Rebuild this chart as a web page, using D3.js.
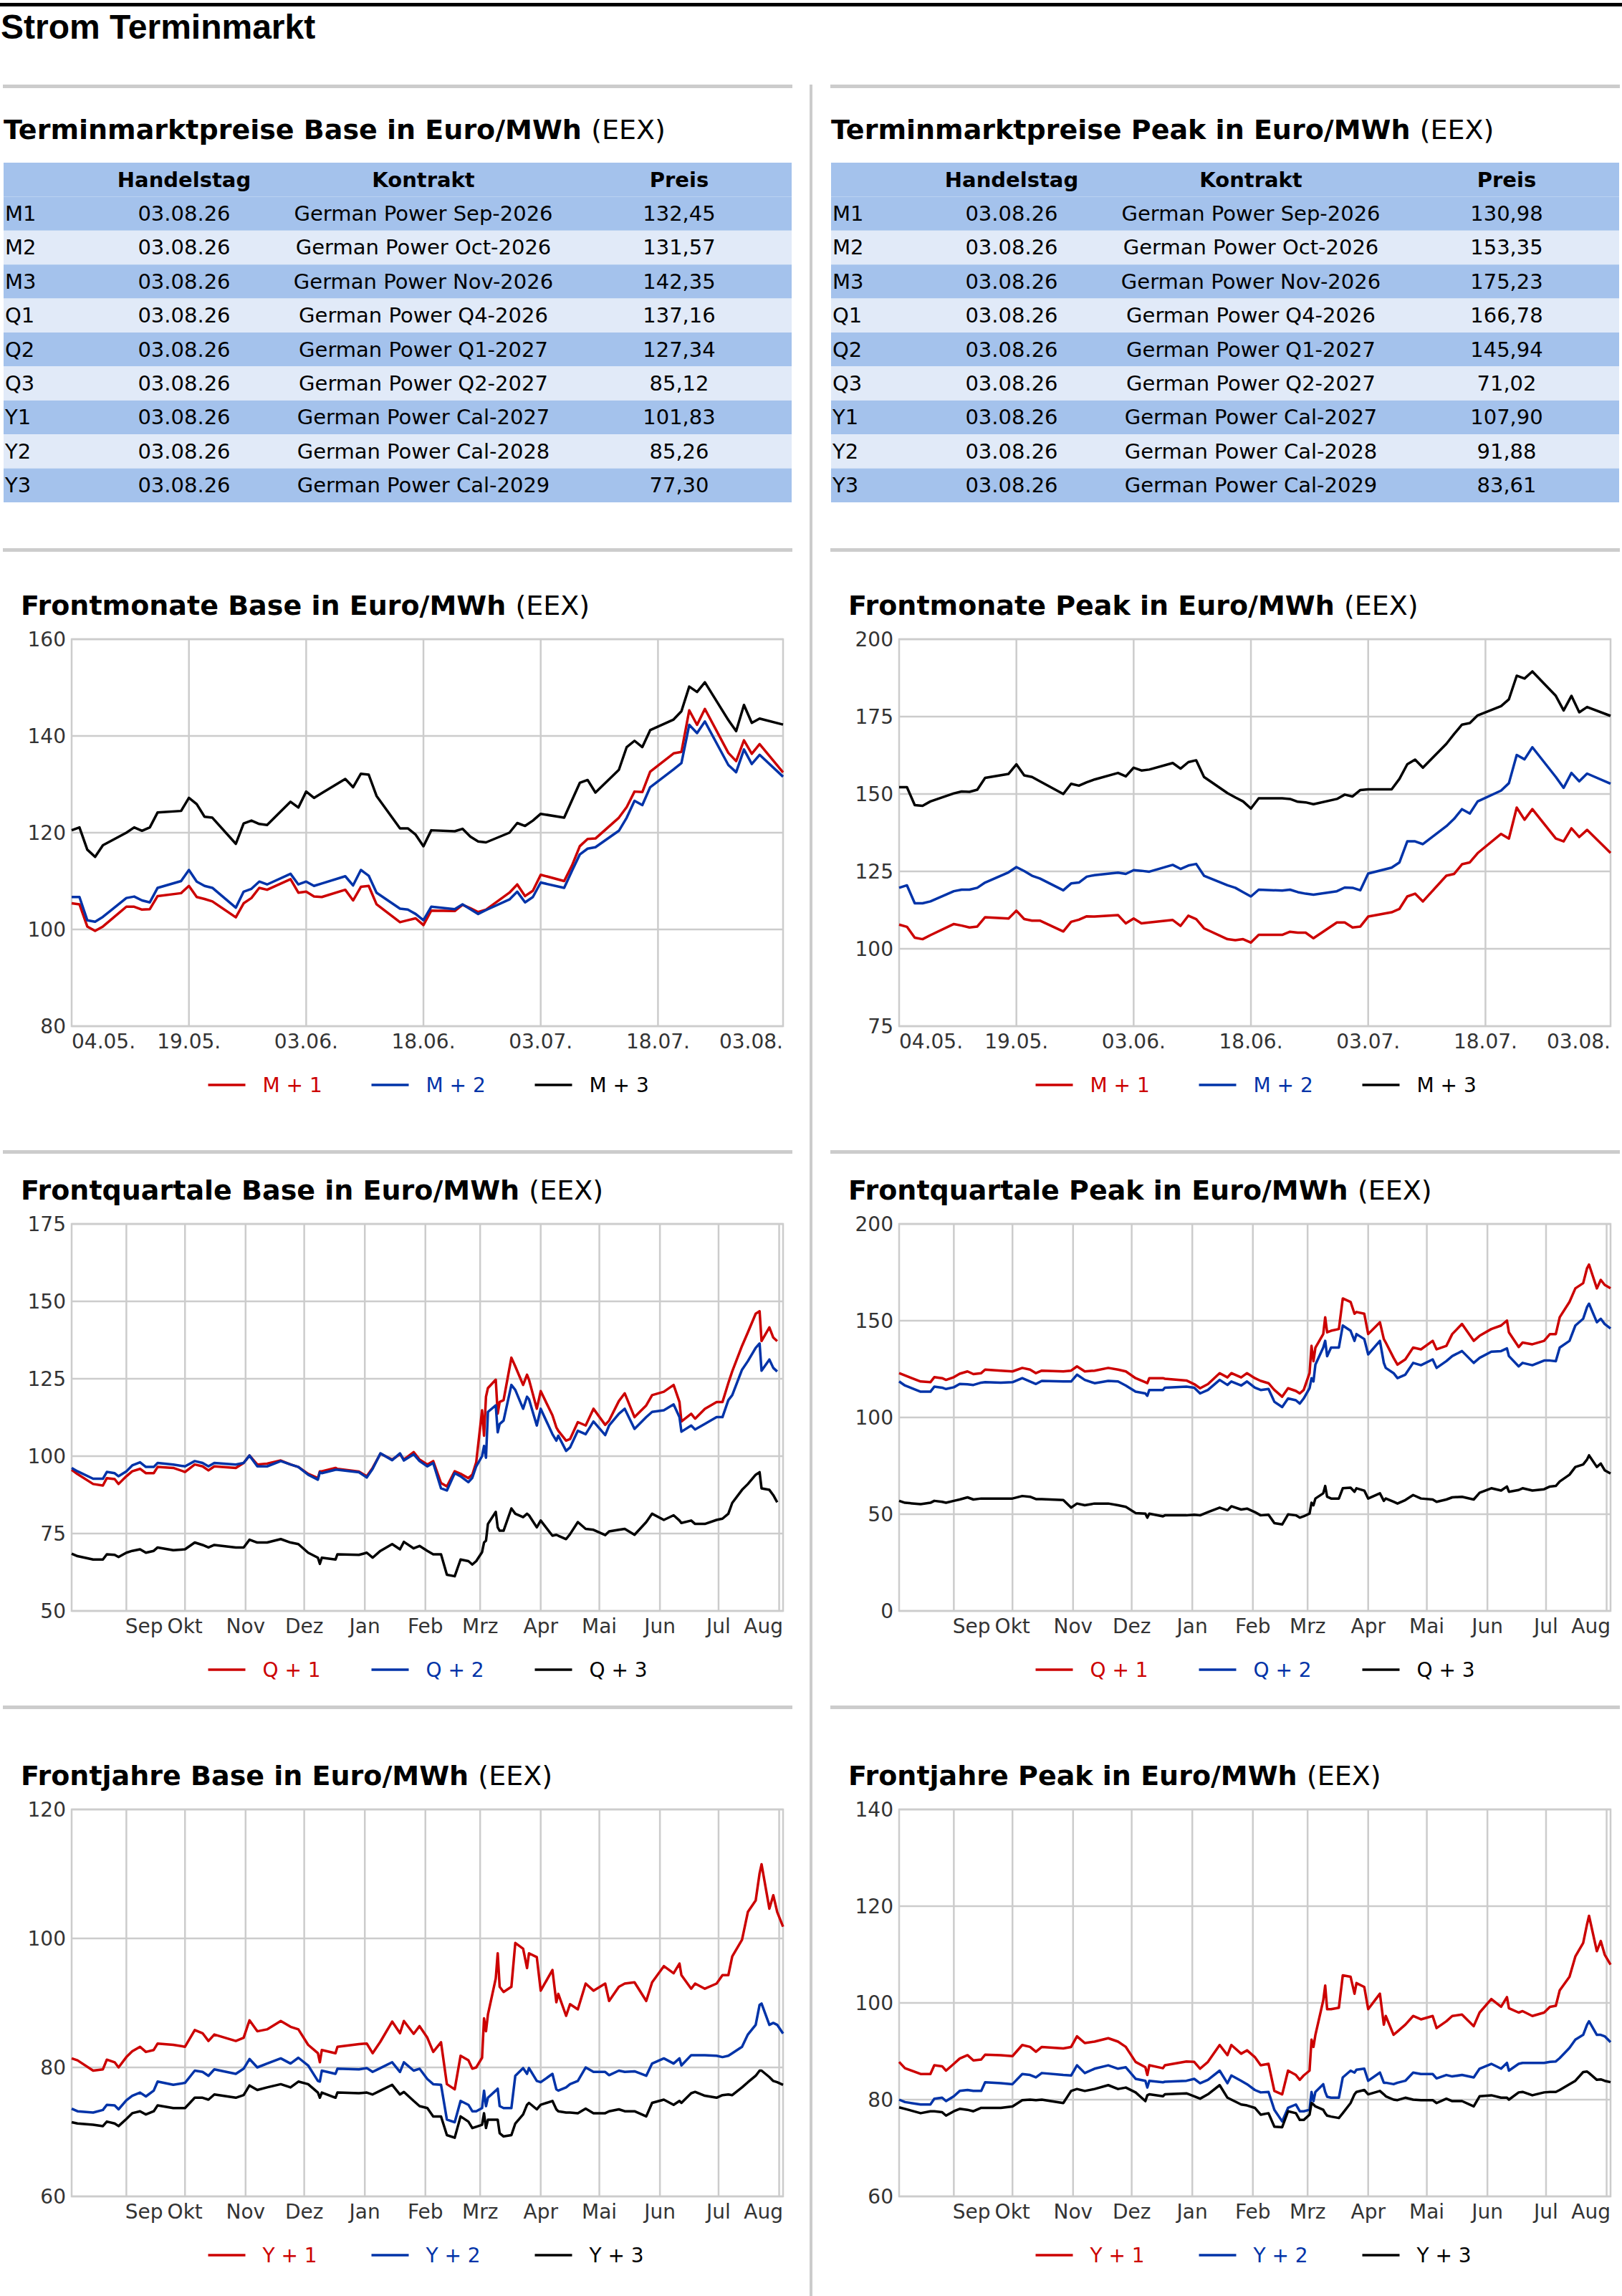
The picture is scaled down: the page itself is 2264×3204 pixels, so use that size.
<!DOCTYPE html>
<html>
<head>
<meta charset="utf-8">
<script src="https://cdnjs.cloudflare.com/ajax/libs/d3/7.8.5/d3.min.js"></script>
<style>
  body { margin: 0; background: #fff; }
  svg { display: block; font-family: "DejaVu Sans", sans-serif; }
</style>
</head>
<body>
<svg id="page" width="2264" height="3204"></svg>
<script>
// ---- table data ----
var rowLabels = ["M1", "M2", "M3", "Q1", "Q2", "Q3", "Y1", "Y2", "Y3"];
var tradeDay = "03.08.26";
var contracts = ["German Power Sep-2026", "German Power Oct-2026", "German Power Nov-2026",
  "German Power Q4-2026", "German Power Q1-2027", "German Power Q2-2027",
  "German Power Cal-2027", "German Power Cal-2028", "German Power Cal-2029"];
var basePrices = [132.45, 131.57, 142.35, 137.16, 127.34, 85.12, 101.83, 85.26, 77.30];
var peakPrices = [130.98, 153.35, 175.23, 166.78, 145.94, 71.02, 107.90, 91.88, 83.61];

// ---- front month data (trading days) ----
var monthDates = ["2026-05-04","2026-05-05","2026-05-06","2026-05-07","2026-05-08",
  "2026-05-11","2026-05-12","2026-05-13","2026-05-14","2026-05-15",
  "2026-05-18","2026-05-19","2026-05-20","2026-05-21","2026-05-22",
  "2026-05-25","2026-05-26","2026-05-27","2026-05-28","2026-05-29",
  "2026-06-01","2026-06-02","2026-06-03","2026-06-04","2026-06-05",
  "2026-06-08","2026-06-09","2026-06-10","2026-06-11","2026-06-12",
  "2026-06-15","2026-06-16","2026-06-17","2026-06-18","2026-06-19",
  "2026-06-22","2026-06-23","2026-06-24","2026-06-25","2026-06-26",
  "2026-06-29","2026-06-30","2026-07-01","2026-07-02","2026-07-03",
  "2026-07-06","2026-07-07","2026-07-08","2026-07-09","2026-07-10",
  "2026-07-13","2026-07-14","2026-07-15","2026-07-16","2026-07-17",
  "2026-07-20","2026-07-21","2026-07-22","2026-07-23","2026-07-24",
  "2026-07-27","2026-07-28","2026-07-29","2026-07-30","2026-07-31",
  "2026-08-03"];
var baseM1 = [105.4,105.2,100.6,99.7,100.6, 104.7,104.7,104.1,104.2,106.9, 107.5,109.0,106.7,106.3,105.8,
  102.5,105.4,106.5,108.6,108.2, 110.4,107.6,107.8,106.8,106.7, 108.2,106.0,108.8,109.0,105.2,
  101.5,101.9,102.3,100.9,103.9, 103.8,105.1,104.4,103.6,104.1, 107.6,109.3,106.9,108.0,111.3,
  110.0,113.2,117.2,118.7,118.8, 123.1,125.3,128.5,128.4,132.6, 136.4,136.7,145.3,142.3,145.6,
  136.5,134.8,139.1,136.3,138.3, 132.45];
var baseM2 = [106.7,106.7,101.9,101.6,102.6, 106.5,106.8,106.0,105.6,108.6, 110.0,112.3,109.9,109.0,108.6,
  104.5,107.8,108.4,109.9,109.3, 111.5,109.3,109.9,109.0,109.5, 111.0,109.1,112.3,111.1,107.6,
  104.3,104.1,103.2,101.9,104.7, 104.2,105.2,104.2,103.2,104.0, 106.2,107.8,105.6,106.7,109.7,
  108.6,112.1,115.5,116.7,117.0, 120.4,123.1,126.6,125.7,129.4, 133.1,134.4,142.3,140.6,143.0,
  134.0,132.5,137.2,134.2,136.1, 131.57];
var baseM3 = [120.5,121.1,116.5,115.0,117.4, 120.0,121.1,120.4,121.1,124.2, 124.5,127.2,125.9,123.3,123.1,
  117.7,121.9,122.5,121.8,121.6, 126.4,125.2,128.5,127.2,128.2, 131.1,129.4,132.2,132.0,127.6,
  120.9,120.9,119.6,117.2,120.5, 120.3,120.8,119.2,118.2,118.0, 120.0,122.0,121.4,122.5,123.9,
  123.1,126.7,130.3,130.9,128.3, 133.0,137.7,139.0,137.7,141.2, 143.4,145.1,150.2,149.1,151.1,
  143.3,141.0,146.4,142.7,143.6, 142.35];
var peakM1 = [107.8,107.1,103.6,103.1,104.4, 108.0,107.5,106.9,107.2,110.2, 109.8,112.3,109.6,109.1,109.1,
  105.6,108.7,109.4,110.5,110.4, 110.9,108.2,109.8,108.2,108.5, 109.3,107.4,110.7,109.6,106.6,
  103.1,102.8,103.1,102.0,104.5, 104.5,105.5,105.2,105.2,103.4, 108.5,108.5,106.9,107.2,110.4,
  111.8,112.9,116.9,117.8,115.3, 123.6,124.2,127.3,127.9,130.9, 137.1,135.6,145.6,141.7,145.1,
  135.6,134.7,138.9,136.1,138.4, 130.98];
var peakM2 = [119.7,120.5,114.7,114.7,115.3, 118.6,119.1,119.1,119.7,121.4, 124.7,126.4,125.1,123.6,122.7,
  118.9,121.1,121.4,123.3,123.8, 124.6,124.2,125.4,125.2,124.9, 127.1,125.8,126.9,127.4,123.6,
  120.5,119.7,118.3,116.9,119.1, 118.8,119.1,118.3,117.8,117.5, 118.6,119.8,119.7,118.9,124.3,
  126.2,127.9,134.7,134.7,133.8, 139.6,142.0,145.1,143.7,147.6, 151.1,153.5,162.6,161.2,165.1,
  155.5,152.0,156.8,154.1,156.6, 153.35];
var peakM3 = [152.2,152.2,146.4,146.2,147.6, 150.2,150.8,150.7,151.4,155.2, 156.5,159.6,156.0,155.5,154.1,
  150.0,153.3,152.7,153.8,154.7, 156.8,155.7,158.5,157.6,157.9, 160.0,158.2,160.3,160.9,155.5,
  150.3,148.9,147.6,145.3,148.6, 148.6,148.4,147.5,147.3,146.7, 148.4,149.8,149.2,151.3,151.5,
  151.5,154.9,159.6,161.1,158.5, 166.2,169.4,172.4,172.9,175.4, 178.4,180.6,188.2,187.3,189.6,
  181.7,177.0,181.7,176.4,178.1, 175.23];

// ---- front quarter / front year data (sampled trading days) ----
var yearDates = ["2025-08-04","2025-08-07","2025-08-15","2025-08-20","2025-08-22","2025-08-26","2025-08-28",
  "2025-09-01","2025-09-04","2025-09-08","2025-09-11","2025-09-15","2025-09-17","2025-09-25",
  "2025-10-01","2025-10-06","2025-10-10","2025-10-13","2025-10-16","2025-10-27","2025-10-31",
  "2025-11-03","2025-11-07","2025-11-12","2025-11-19","2025-11-24","2025-11-28",
  "2025-12-03","2025-12-08","2025-12-09","2025-12-10","2025-12-17","2025-12-18","2025-12-29",
  "2026-01-02","2026-01-05","2026-01-09","2026-01-15","2026-01-19","2026-01-21","2026-01-26","2026-01-29",
  "2026-02-02","2026-02-05","2026-02-09","2026-02-12","2026-02-16","2026-02-19","2026-02-23","2026-02-25","2026-02-27",
  "2026-03-02","2026-03-03","2026-03-04","2026-03-05","2026-03-09","2026-03-10","2026-03-11","2026-03-13",
  "2026-03-17","2026-03-19","2026-03-23","2026-03-25","2026-03-26","2026-03-30",
  "2026-04-01","2026-04-07","2026-04-09","2026-04-10","2026-04-14","2026-04-16","2026-04-20","2026-04-24","2026-04-28",
  "2026-05-04","2026-05-06","2026-05-11","2026-05-14","2026-05-19","2026-05-25","2026-05-28",
  "2026-06-03","2026-06-08","2026-06-11","2026-06-12","2026-06-17","2026-06-19","2026-06-24","2026-06-30",
  "2026-07-03","2026-07-06","2026-07-08","2026-07-13","2026-07-16","2026-07-20","2026-07-22","2026-07-23",
  "2026-07-27","2026-07-29","2026-07-31","2026-08-03"];

var baseQ1 = [95.6,94.2,91.0,90.5,92.9,92.6,91.0, 93.5,95.1,95.9,94.5,94.5,96.5,96.2,
  94.9,97.3,96.7,95.4,96.7,96.2,97.8, 100.2,97.3,97.6,98.6,97.3,96.5,
  94.3,92.9,95.1,95.1,96.2,95.9,95.0, 93.5,96.2,100.8,98.9,100.6,98.9,101.3,98.9,
  97.3,98.4,91.3,90.2,95.1,94.3,92.9,94.0, 98.0,114.8,106.6,119.2,122.0,124.7,113.7,117.5,
  118.1,131.8,129.0,123.0,126.3,124.7, 115.3,121.0,113.2,109.3,108.2,105.0,105.5,111.0,109.9,
  115.3,110.1,111.5,117.8,120.3,112.6,116.4, 119.7,120.8,123.0,117.5,111.2,113.7,112.1,115.3,
  117.5,117.5,123.6,127.4,135.6,140.0,146.0, 146.8,137.2,141.6,138.3,137.16];
var baseQ2 = [96.2,95.1,92.7,92.7,94.9,94.5,93.5, 95.1,97.0,98.0,96.5,96.5,97.8,97.3,
  96.7,98.4,97.8,96.7,97.8,97.3,97.8, 100.2,96.7,96.7,98.4,97.3,96.5,
  94.0,92.4,94.8,94.5,95.6,95.6,94.8, 93.1,95.9,100.9,98.7,100.9,98.6,100.6,98.4,
  96.7,97.8,89.6,88.9,94.5,93.5,91.6,93.0, 96.7,100.0,103.3,99.5,114.3,116.4,107.7,110.4,
  111.5,123.0,121.4,115.3,119.2,118.4, 109.9,115.3,107.1,105.0,106.6,101.7,102.8,108.2,107.1,
  111.2,106.8,109.9,113.7,115.3,108.8,112.6, 114.3,114.8,116.7,112.6,107.9,109.9,108.6,110.4,
  112.6,112.6,118.1,119.7,127.9,130.7,135.0, 136.4,127.6,131.2,128.5,127.34];
var baseQ3 = [68.5,67.7,66.6,66.6,68.3,68.1,67.4, 68.8,69.4,69.9,68.8,69.4,70.5,69.6,
  69.9,72.1,71.3,70.5,71.3,70.5,70.5, 73.0,72.1,72.1,73.2,72.1,71.6,
  68.8,67.2,65.2,67.2,66.6,68.3,68.1, 68.8,67.2,69.4,71.6,69.9,72.3,70.2,71.0,
  69.4,68.3,68.3,61.7,61.2,66.6,66.1,65.0, 66.1,69.0,72.1,72.7,78.1,82.0,77.0,75.9,
  75.9,83.1,81.4,80.3,81.4,80.9, 77.0,79.2,74.3,74.6,74.3,73.2,74.8,78.7,76.5,
  76.2,74.5,75.7,76.2,76.5,74.6,78.7, 81.4,79.4,80.9,79.2,78.4,79.2,78.1,78.1,
  79.4,79.8,81.4,84.9,89.1,91.0,94.0, 94.8,89.6,89.1,87.4,85.12];

var peakQ1 = [122.9,121.7,118.6,118.2,120.8,120.3,119.4, 120.8,122.6,123.8,122.4,122.9,124.7,124.2,
  123.8,125.6,124.7,122.9,124.2,123.8,124.2, 126.4,123.8,124.2,125.6,124.7,123.8,
  120.3,118.2,117.7,120.3,120.3,120.0,119.1, 117.2,115.1,117.2,122.9,120.7,122.9,120.7,122.9,
  120.3,118.9,117.7,114.2,110.7,115.1,113.7,112.4, 114.2,122.9,137.0,129.1,136.1,143.1,151.8,144.0,
  144.8,145.7,161.5,159.7,153.6,154.5, 153.6,143.1,149.2,140.5,138.7,130.8,127.3,130.0,136.1,
  135.2,139.6,135.2,137.0,143.1,148.3,139.6, 142.2,145.7,147.5,150.1,144.0,136.4,138.7,137.8,
  139.6,143.1,143.1,151.8,159.7,166.7,169.4, 177.2,179.0,166.7,171.1,168.5,166.78];
var peakQ2 = [118.6,116.5,113.3,113.3,115.9,115.4,114.7, 115.6,117.3,117.1,116.8,118.0,118.2,118.0,
  118.2,120.3,118.6,117.3,118.9,118.6,118.6, 122.1,119.4,117.7,118.9,118.6,116.5,
  113.3,112.4,111.2,114.2,114.2,115.4,115.9, 115.4,112.4,114.2,119.4,116.8,118.6,116.5,118.6,
  115.4,114.2,114.7,108.1,105.4,109.8,108.9,107.2, 109.8,115.1,120.3,118.6,127.3,136.1,139.6,131.7,
  136.1,136.1,147.5,144.8,139.6,143.1, 140.5,132.6,139.6,128.2,125.6,122.9,120.3,122.1,128.2,
  127.0,130.0,125.6,129.1,131.7,134.3,128.2, 130.8,134.0,134.3,135.7,131.7,126.4,128.2,127.0,
  129.4,129.4,129.1,136.1,139.6,147.5,151.0, 157.1,158.8,149.2,151.0,148.3,145.94];
var peakQ3 = [56.9,55.9,55.2,55.9,56.9,56.4,55.9, 56.9,57.6,58.7,57.6,58.1,58.1,58.1,
  58.1,59.4,59.0,57.8,57.8,57.3,53.4, 55.5,54.6,55.5,55.5,54.6,53.8,
  50.6,50.3,48.2,50.3,48.9,49.4,49.4, 49.7,49.4,51.1,53.4,52.0,54.1,52.4,52.9,
  51.1,49.4,49.7,45.4,44.7,49.9,49.4,48.2, 48.9,50.3,55.9,54.6,58.1,60.8,64.6,59.0,
  58.1,58.1,63.4,63.7,61.6,63.4, 62.2,58.1,60.8,56.9,58.1,56.4,55.5,57.3,59.9,
  58.1,57.6,56.4,57.6,58.7,59.0,57.6, 61.1,63.4,62.2,64.3,61.6,62.5,63.4,62.2,
  62.9,64.3,64.6,66.9,70.4,74.4,75.7, 78.3,80.4,74.4,76.2,72.7,71.02];

var baseY1 = [81.4,81.1,79.5,79.7,81.2,80.8,80.0, 81.6,82.5,83.2,82.4,82.7,83.7,83.5,
  83.2,85.8,85.3,84.1,85.1,84.1,84.6, 87.3,85.6,85.9,87.2,86.3,85.9,
  83.5,82.2,80.8,82.7,82.2,83.2,83.6, 83.7,82.2,84.0,87.1,85.3,87.2,85.2,86.4,
  84.6,82.4,83.9,77.4,76.6,81.8,81.1,79.8, 80.0,81.5,87.6,85.6,88.2,93.8,97.7,92.5,
  91.7,92.5,99.3,98.4,95.4,97.7, 97.1,91.9,95.1,90.1,91.4,88.0,89.8,89.0,93.0,
  91.9,93.0,90.3,92.5,93.0,93.2,90.3, 93.2,95.7,94.6,96.1,94.3,92.2,93.0,92.2,
  93.0,94.3,94.3,97.2,99.8,104.1,105.9, 110.1,111.5,104.6,106.7,104.1,101.83];
var baseY2 = [73.6,73.2,73.0,73.4,74.2,74.1,73.5, 74.9,75.6,76.1,75.5,76.4,77.8,77.3,
  77.6,79.5,79.3,78.7,79.7,79.0,79.8, 81.3,80.0,80.6,81.4,80.6,81.5,
  80.3,77.9,77.8,79.5,79.0,79.8,79.7, 79.9,79.3,79.9,80.8,79.3,80.8,79.5,79.8,
  78.2,77.4,77.3,71.9,71.5,74.8,74.2,73.2, 73.2,73.7,76.4,74.0,75.3,76.4,76.7,74.0,
  73.7,73.7,78.7,79.9,79.0,79.9, 77.9,77.7,79.0,76.6,76.4,76.9,77.4,77.9,80.0,
  79.3,79.3,78.8,79.5,79.3,79.4,78.7, 80.6,81.4,80.6,81.4,80.3,81.9,81.9,81.9,
  81.8,81.6,81.8,82.2,83.2,85.1,86.6, 89.7,89.9,86.6,86.9,86.6,85.26];
var baseY3 = [71.5,71.3,71.1,70.9,71.6,71.3,70.9, 72.0,72.9,73.2,72.7,73.2,74.1,73.7,
  73.7,75.3,75.3,75.0,75.8,75.3,75.7, 77.2,76.5,76.9,77.4,76.9,77.8,
  77.4,76.1,75.3,76.1,75.3,76.1,76.0, 76.1,75.8,76.4,77.3,75.8,76.2,74.8,74.0,
  73.7,72.4,72.4,69.5,69.1,72.4,71.6,70.6, 70.8,71.1,72.9,70.6,71.9,71.9,71.9,69.8,
  69.3,69.5,71.3,72.7,74.2,74.5, 73.5,74.2,74.8,73.5,73.2,73.0,73.0,72.9,73.6,
  72.9,72.9,73.2,73.5,73.2,73.2,72.4, 74.5,75.0,74.2,74.8,74.5,76.0,76.2,75.6,
  75.3,75.7,75.8,75.7,76.9,77.7,78.7, 79.5,79.5,78.5,77.9,77.7,77.30];

var peakY1 = [87.8,86.5,85.3,85.3,87.1,86.9,86.0, 87.4,88.5,89.2,88.1,88.3,89.3,89.2,
  89.0,91.3,90.9,89.9,90.9,90.6,90.9, 93.1,91.7,92.0,92.7,92.0,90.9,
  87.8,86.7,85.1,87.1,86.5,87.1,87.9, 87.8,86.4,87.8,91.3,89.2,91.3,89.5,90.2,
  88.8,87.1,87.4,81.8,81.1,86.0,85.1,84.1, 85.0,86.0,92.4,90.9,93.4,100.5,103.6,98.7,
  98.7,99.0,105.7,105.4,101.9,104.1, 103.3,98.7,101.9,95.5,97.3,93.4,94.1,95.5,97.3,
  96.6,97.3,94.8,96.2,97.3,97.6,95.2, 98.0,100.8,99.2,101.2,98.9,98.0,98.3,97.3,
  98.0,99.2,99.4,102.6,105.4,109.6,112.4, 116.3,118.0,110.7,112.8,110.0,107.90];
var peakY2 = [80.0,79.5,79.0,79.0,80.2,80.4,79.7, 80.7,81.8,82.0,81.8,81.8,83.6,83.4,
  83.2,85.3,85.1,84.6,85.5,85.1,85.0, 87.1,85.5,86.4,87.1,86.4,86.7,
  84.3,83.9,82.5,83.9,83.6,83.7,83.9, 84.3,83.4,84.1,86.0,83.4,85.0,83.9,83.2,
  82.0,81.5,81.6,77.9,75.5,78.3,79.0,77.6, 77.6,77.9,81.6,79.7,81.6,83.2,81.6,80.6,
  80.4,80.4,84.6,86.0,85.6,86.2, 86.4,83.9,85.6,83.5,83.5,83.2,83.5,83.9,85.6,
  85.3,85.3,84.4,85.1,84.8,85.1,84.6, 86.4,87.4,86.4,87.6,86.0,87.4,87.6,87.6,
  87.6,87.8,87.9,88.6,90.7,92.4,93.4, 95.5,96.2,93.4,93.4,93.1,91.88];
var peakY3 = [78.4,78.1,77.2,77.6,77.6,77.4,76.7, 77.6,78.1,77.9,77.6,78.3,78.3,78.3,
  78.6,79.9,80.0,79.9,80.0,79.3,81.8, 82.2,81.8,82.2,83.0,82.2,82.5,
  81.5,79.7,80.9,81.1,80.7,81.1,81.3, 80.7,80.2,81.1,83.0,80.4,80.0,79.0,78.8,
  78.3,76.9,77.2,74.4,74.3,77.6,77.2,75.8, 75.8,76.9,79.3,79.0,78.6,77.9,77.2,76.7,
  76.5,76.2,77.2,79.3,81.1,81.6, 82.0,81.1,81.8,81.1,80.7,80.0,79.9,80.4,80.0,
  79.9,79.9,79.3,80.2,79.7,79.7,78.6, 80.7,80.9,80.4,80.4,80.0,81.5,81.6,80.9,
  81.5,81.6,81.6,82.0,83.2,83.9,85.7, 85.8,85.5,84.1,84.2,83.9,83.61];

var monthTickDates = ["2026-05-04","2026-05-19","2026-06-03","2026-06-18","2026-07-03","2026-07-18","2026-08-03"];
var monthNames = ["Sep","Okt","Nov","Dez","Jan","Feb","Mrz","Apr","Mai","Jun","Jul","Aug"];
var monthStarts = ["2025-09-01","2025-10-01","2025-11-01","2025-12-01","2026-01-01","2026-02-01",
  "2026-03-01","2026-04-01","2026-05-01","2026-06-01","2026-07-01","2026-08-01"];

// ---- drawing ----
var parse = d3.timeParse("%Y-%m-%d");
var fmtPrice = function (v) { return d3.format(".2f")(v).replace(".", ","); };
var RED = "#cc0000", BLUE = "#0033a8", BLACK = "#000000", GRID = "#cccccc";
var svg = d3.select("#page");
var COL = 1155;

svg.append("rect").attr("x", 0).attr("y", 4).attr("width", 2264).attr("height", 5).attr("fill", "#000");
svg.append("text").attr("x", 1).attr("y", 54)
  .style("font-family", "'Liberation Sans', Arial, sans-serif").style("font-weight", "bold")
  .style("font-size", "48px").text("Strom Terminmarkt");
svg.append("rect").attr("x", 1130).attr("y", 118).attr("width", 4).attr("height", 3086).attr("fill", GRID);

function hline(x, y) {
  svg.append("rect").attr("x", x).attr("y", y - 2).attr("width", 1102).attr("height", 5).attr("fill", GRID);
}

function titleText(x, y, bold) {
  var t = svg.append("text").attr("x", x).attr("y", y).style("font-size", "38px");
  t.append("tspan").style("font-weight", "bold").text(bold + " ");
  t.append("tspan").text("(EEX)");
}

function drawTable(x0, kind, prices) {
  hline(x0 + 4, 120);
  titleText(x0 + 5, 194, "Terminmarktpreise " + kind + " in Euro/MWh");
  var top = 227, rh = 47.4, w = 1100;
  var g = svg.append("g").attr("transform", "translate(" + (x0 + 5) + "," + top + ")");
  g.append("rect").attr("width", w).attr("height", rh).attr("fill", "#a4c2ec");
  var head = [["Handelstag", 252], ["Kontrakt", 586], ["Preis", 943]];
  head.forEach(function (h) {
    g.append("text").attr("x", h[1]).attr("y", rh / 2 + 10).attr("text-anchor", "middle")
      .style("font-size", "29px").style("font-weight", "bold").text(h[0]);
  });
  var rows = g.selectAll("g.row").data(rowLabels).enter().append("g")
    .attr("transform", function (d, i) { return "translate(0," + (rh * (i + 1)) + ")"; });
  rows.append("rect").attr("width", w).attr("height", rh)
    .attr("fill", function (d, i) { return i % 2 === 0 ? "#a4c2ec" : "#e1eaf8"; });
  rows.append("text").attr("x", 2).attr("y", rh / 2 + 10).style("font-size", "29px").text(function (d) { return d; });
  rows.append("text").attr("x", 252).attr("y", rh / 2 + 10).attr("text-anchor", "middle").style("font-size", "29px").text(tradeDay);
  rows.append("text").attr("x", 586).attr("y", rh / 2 + 10).attr("text-anchor", "middle").style("font-size", "29px")
    .text(function (d, i) { return contracts[i]; });
  rows.append("text").attr("x", 943).attr("y", rh / 2 + 10).attr("text-anchor", "middle").style("font-size", "29px")
    .text(function (d, i) { return fmtPrice(prices[i]); });
}

drawTable(0, "Base", basePrices);
drawTable(COL, "Peak", peakPrices);

var rowsY = [{ top: 892, sep: 767 }, { top: 1708, sep: 1607 }, { top: 2525, sep: 2382 }];
var PH = 540;

function drawChart(o) {
  var left = o.x0 + 100, right = o.x0 + 1093, top = o.top, bottom = top + PH;
  hline(o.x0 + 4, o.sep);
  titleText(o.x0 + 29, top - 34, o.title);
  var dates = o.dates.map(parse);
  var x = d3.scaleTime().domain(o.domain.map(parse)).range([left, right]);
  var y = d3.scaleLinear().domain(o.yDomain).range([bottom, top]);
  var g = svg.append("g");

  // horizontal grid + y labels
  var yt = d3.range(o.yDomain[0], o.yDomain[1] + 0.001, o.yStep);
  g.selectAll("line.hg").data(yt).enter().append("line")
    .attr("x1", left).attr("x2", right).attr("y1", y).attr("y2", y)
    .attr("stroke", GRID).attr("stroke-width", 2.5);
  g.selectAll("text.yl").data(yt).enter().append("text")
    .attr("x", left - 8).attr("y", function (d) { return y(d) + 10; })
    .attr("text-anchor", "end").attr("fill", "#333").style("font-size", "28px").text(d3.format("d"));

  // vertical grid
  var vg = o.grid.map(parse);
  g.selectAll("line.vg").data(vg).enter().append("line")
    .attr("x1", x).attr("x2", x).attr("y1", top).attr("y2", bottom)
    .attr("stroke", GRID).attr("stroke-width", 2.5);
  g.append("rect").attr("x", left).attr("y", top).attr("width", right - left).attr("height", PH)
    .attr("fill", "none").attr("stroke", GRID).attr("stroke-width", 2.5);

  // x labels, nudged so they do not overlap
  var labels = g.selectAll("text.xl").data(o.labels).enter().append("text")
    .attr("y", bottom + 31).attr("fill", "#333").style("font-size", "28px")
    .attr("text-anchor", "start").text(function (d) { return d[1]; });
  var boxes = [];
  labels.each(function (d) {
    var w = this.getComputedTextLength();
    boxes.push({ node: this, w: w, l: x(parse(d[0])) - w / 2 });
  });
  if (boxes.length) {
    boxes[0].l = Math.max(boxes[0].l, o.firstMin === undefined ? left : x(parse(o.firstMin)));
    for (var i = 1; i < boxes.length; i++) boxes[i].l = Math.max(boxes[i].l, boxes[i - 1].l + boxes[i - 1].w + 2);
    var last = boxes[boxes.length - 1];
    last.l = Math.min(last.l, right - last.w);
    for (var j = boxes.length - 2; j >= 0; j--) boxes[j].l = Math.min(boxes[j].l, boxes[j + 1].l - boxes[j].w - 6);
    boxes.forEach(function (b) { d3.select(b.node).attr("x", b.l); });
  }

  // lines
  var line = d3.line().x(function (d) { return x(d[0]); }).y(function (d) { return y(d[1]); });
  o.series.forEach(function (s) {
    var pts = dates.map(function (d, i) { return [d, s.values[i]]; })
      .filter(function (p) { return p[1] !== undefined; });
    g.append("path").datum(pts).attr("d", line).attr("fill", "none")
      .attr("stroke", s.color).attr("stroke-width", 3.5).attr("stroke-linejoin", "round");
  });

  // legend
  var cx = (left + right) / 2, ly = bottom + 82;
  var lg = g.append("g").attr("transform", "translate(" + (cx - 306) + "," + ly + ")");
  o.series.forEach(function (s, i) {
    var it = lg.append("g").attr("transform", "translate(" + (i * 228) + ",0)");
    it.append("line").attr("x1", 0).attr("x2", 52).attr("stroke", s.color).attr("stroke-width", 3.5);
    it.append("text").attr("x", 76).attr("y", 10).attr("fill", s.color).style("font-size", "28px").text(s.name);
  });
}

var monthLabels = monthTickDates.map(function (d) {
  return [d, d.slice(8, 10) + "." + d.slice(5, 7) + "."];
});
var yearLabels = monthStarts.map(function (d, i) { return [d, monthNames[i]]; });

function mSeries(a, b, c) {
  return [{ name: "M + 1", color: RED, values: a }, { name: "M + 2", color: BLUE, values: b }, { name: "M + 3", color: BLACK, values: c }];
}
function qSeries(p, a, b, c) {
  return [{ name: p + " + 1", color: RED, values: a }, { name: p + " + 2", color: BLUE, values: b }, { name: p + " + 3", color: BLACK, values: c }];
}

var monthOpts = { dates: monthDates, domain: ["2026-05-04", "2026-08-03"],
  grid: monthTickDates.slice(1, -1), labels: monthLabels };
var yearOpts = { dates: yearDates, domain: ["2025-08-04", "2026-08-03"],
  grid: monthStarts, labels: yearLabels, firstMin: "2025-09-01" };

function chart(col, row, base, title, yDomain, yStep, series) {
  drawChart(Object.assign({}, base, { x0: col * COL, top: rowsY[row].top, sep: rowsY[row].sep,
    title: title, yDomain: yDomain, yStep: yStep, series: series }));
}

chart(0, 0, monthOpts, "Frontmonate Base in Euro/MWh", [80, 160], 20, mSeries(baseM1, baseM2, baseM3));
chart(1, 0, monthOpts, "Frontmonate Peak in Euro/MWh", [75, 200], 25, mSeries(peakM1, peakM2, peakM3));
chart(0, 1, yearOpts, "Frontquartale Base in Euro/MWh", [50, 175], 25, qSeries("Q", baseQ1, baseQ2, baseQ3));
chart(1, 1, yearOpts, "Frontquartale Peak in Euro/MWh", [0, 200], 50, qSeries("Q", peakQ1, peakQ2, peakQ3));
chart(0, 2, yearOpts, "Frontjahre Base in Euro/MWh", [60, 120], 20, qSeries("Y", baseY1, baseY2, baseY3));
chart(1, 2, yearOpts, "Frontjahre Peak in Euro/MWh", [60, 140], 20, qSeries("Y", peakY1, peakY2, peakY3));
</script>
</body>
</html>
